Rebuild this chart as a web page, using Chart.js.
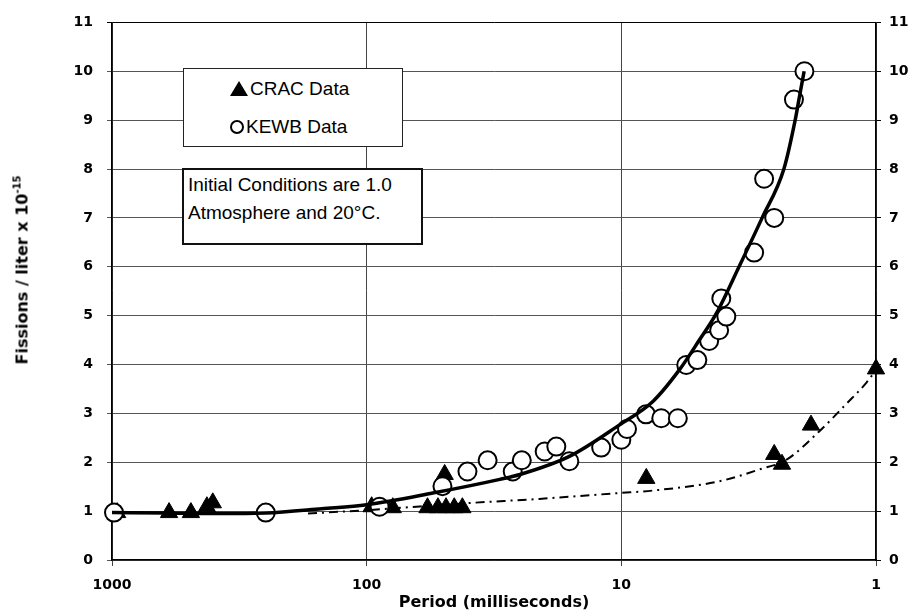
<!DOCTYPE html>
<html>
<head>
<meta charset="utf-8">
<script src="https://cdn.jsdelivr.net/npm/chart.js@4.4.1/dist/chart.umd.min.js"></script>
<style>
  html, body { margin:0; padding:0; background:#fff; }
  #wrap { position:relative; width:909px; height:616px; overflow:hidden; }
  #c { position:absolute; left:0; top:0; }
  .box { position:absolute; background:#fff; font-family:"Liberation Sans", Arial, sans-serif; color:#000; }
  #legend { left:183px; top:68px; width:218px; height:77px; border:1px solid #222; }
  .row { position:absolute; left:46px; font-size:19px; line-height:22px; white-space:nowrap; }
  .tri { display:inline-block; width:0; height:0; border-left:9px solid transparent; border-right:9px solid transparent; border-bottom:15px solid #000; vertical-align:-1px; margin-right:2px; }
  .circ { display:inline-block; width:14px; height:14px; border:2px solid #000; border-radius:50%; vertical-align:-1px; margin-right:2px; box-sizing:border-box; }
  #note { left:182px; top:168px; width:237px; height:73px; border:2px solid #111; }
  #note div { position:absolute; left:4px; font-size:19px; line-height:22px; white-space:nowrap; }
  #ytitle { position:absolute; left:22px; top:270px; transform:translate(-50%,-50%) rotate(-90deg); font-family:"DejaVu Sans", sans-serif; font-weight:bold; font-size:16px; white-space:nowrap; color:#000; }
  #ytitle sup { font-size:10px; vertical-align:7px; line-height:0; }
</style>
</head>
<body>
<div id="wrap">
  <canvas id="c" width="909" height="616"></canvas>
  <div id="legend" class="box">
    <div class="row" style="top:9px"><span class="tri"></span>CRAC Data</div>
    <div class="row" style="top:47px"><span class="circ"></span>KEWB Data</div>
  </div>
  <div id="note" class="box">
    <div style="top:4px">Initial Conditions are 1.0</div>
    <div style="top:32px">Atmosphere and 20°C.</div>
  </div>
  <div id="ytitle">Fissions / liter x 10<sup>-15</sup></div>
</div>
<script>
// ---- data ----
const cracPeriod   = [955, 597, 490, 424, 402, 95.6, 79, 57.7, 52.5, 48.8, 45.3, 42.1, 49.4, 7.98, 2.51, 2.34, 1.80, 1.0];
const cracFissions = [0.97, 0.97, 0.97, 1.09, 1.17, 1.09, 1.07, 1.07, 1.07, 1.07, 1.07, 1.07, 1.75, 1.67, 2.16, 1.96, 2.76, 3.91];

const kewbPeriod   = [982, 249, 89, 50.4, 40.2, 33.5, 26.7, 24.6, 20.0, 18.0, 16.0, 12.0, 10.0, 9.5, 8.0, 6.97, 6.0, 5.56, 5.03, 4.52, 4.13, 3.87, 4.05, 3.01, 2.51, 2.75, 2.10, 1.91];
const kewbFissions = [0.97, 0.97, 1.09, 1.51, 1.81, 2.04, 1.81, 2.04, 2.22, 2.32, 2.02, 2.30, 2.46, 2.68, 2.98, 2.90, 2.90, 3.99, 4.09, 4.48, 4.70, 4.98, 5.35, 6.29, 7.00, 7.80, 9.42, 10.0];

const kewbFitPeriod   = [1000, 600, 400, 300, 250, 150, 100, 55, 30, 25, 16, 10.2, 7.5, 5.9, 4.94, 4.24, 3.45, 2.8, 2.3, 2.077, 1.995, 1.915];
const kewbFitFissions = [0.97, 0.96, 0.95, 0.95, 0.96, 1.05, 1.13, 1.37, 1.65, 1.75, 2.12, 2.76, 3.25, 3.9, 4.5, 5.04, 6.0, 7.0, 8.0, 9.0, 9.5, 10.0];

const cracFitPeriod   = [170, 100, 38.4, 21.0, 10.2, 7.55, 4.13, 2.88, 2.25, 1.68, 1.31, 1.09, 1.0];
const cracFitFissions = [0.95, 1.02, 1.17, 1.25, 1.37, 1.42, 1.61, 1.85, 2.05, 2.62, 3.19, 3.63, 3.89];

const xTicks = [1000, 100, 10, 1];
const yTicks = [0, 1, 2, 3, 4, 5, 6, 7, 8, 9, 10, 11];

const pts = (xs, ys) => xs.map((x, i) => ({ x: x, y: ys[i] }));
const tickFont = { family: "DejaVu Sans", weight: "bold", size: 14 };

new Chart(document.getElementById('c'), {
  type: 'scatter',
  data: {
    datasets: [
      { label: 'KEWB fit', data: pts(kewbFitPeriod, kewbFitFissions), showLine: true, clip: false,
        borderColor: '#000', borderWidth: 3.5, pointRadius: 0, cubicInterpolationMode: 'monotone', order: 0 },
      { label: 'CRAC fit', data: pts(cracFitPeriod, cracFitFissions), showLine: true, clip: false,
        borderColor: '#000', borderWidth: 2, borderDash: [9, 5, 2, 5], pointRadius: 0, cubicInterpolationMode: 'monotone', order: 1 },
      { label: 'KEWB Data', data: pts(kewbPeriod, kewbFissions), pointStyle: 'circle', pointRadius: 9, clip: false,
        borderColor: '#000', borderWidth: 2, backgroundColor: '#fff', order: 2 },
      { label: 'CRAC Data', data: pts(cracPeriod, cracFissions), pointStyle: 'triangle', pointRadius: 10, clip: false,
        borderColor: '#000', borderWidth: 1, backgroundColor: '#000', order: 3 }
    ]
  },
  options: {
    responsive: false,
    animation: false,
    layout: { padding: { top: 13, left: 0, right: 0, bottom: 0 } },
    plugins: { legend: { display: false }, tooltip: { enabled: false } },
    scales: {
      x: {
        type: 'logarithmic', reverse: true, min: 1, max: 1000,
        afterBuildTicks: s => { s.ticks = xTicks.map(v => ({ value: v })); },
        ticks: { color: '#000', font: tickFont, padding: 11, maxRotation: 0, autoSkip: false, callback: v => String(v) },
        grid: { color: '#444', lineWidth: 1, tickLength: 6 },
        border: { color: '#000', width: 1.5 },
        title: { display: true, text: 'Period (milliseconds)', color: '#000',
                 font: { family: "DejaVu Sans", weight: 'bold', size: 16 }, padding: { top: 0, bottom: 4 } },
        afterFit: s => { s.height = 56; }
      },
      y: {
        position: 'left', min: 0, max: 11,
        afterBuildTicks: s => { s.ticks = yTicks.map(v => ({ value: v })); },
        ticks: { color: '#000', font: tickFont, padding: 14 },
        grid: { color: ctx => (ctx.tick && ctx.tick.value === 11) ? '#000' : '#555', lineWidth: 1, tickLength: 5 },
        border: { color: '#000', width: 1.5 },
        afterFit: s => { s.width = 112; }
      },
      y2: {
        position: 'right', min: 0, max: 11,
        afterBuildTicks: s => { s.ticks = yTicks.map(v => ({ value: v })); },
        ticks: { color: '#000', font: tickFont, padding: 8 },
        grid: { drawOnChartArea: false, color: '#000', tickLength: 5 },
        border: { color: '#000', width: 1.5 },
        afterFit: s => { s.width = 33; }
      }
    }
  }
});
</script>
</body>
</html>
